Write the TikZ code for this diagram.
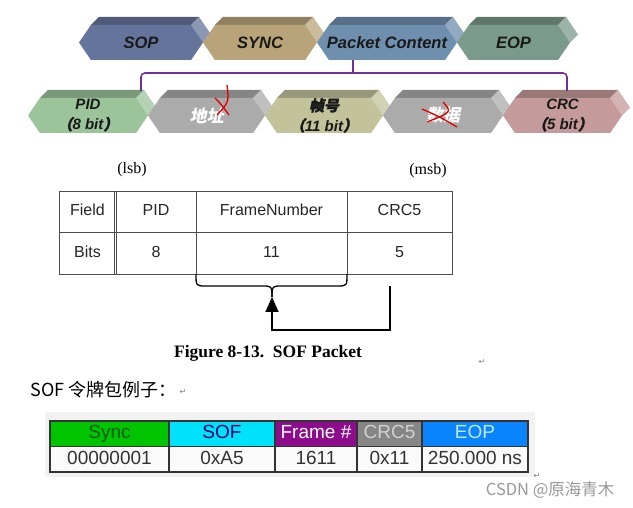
\documentclass[tikz,border=0pt]{standalone}
\usepackage{fontspec}
\setmainfont{Liberation Serif}
\setsansfont{Liberation Sans}
\newfontfamily\cjk{Noto Sans CJK SC}
\newfontfamily\cjkit[FakeSlant=0.2]{Noto Sans CJK SC}
\newfontfamily\cjkbf[FakeSlant=0.2,FakeBold=1.5]{Noto Sans CJK SC}
\newfontfamily\symfont{DejaVu Sans}
\usepackage{xcolor}
\usepackage{tikz}
\usetikzlibrary{positioning, arrows.meta}

\definecolor{sopc}{HTML}{65749A}
\definecolor{syncc}{HTML}{B9A47A}
\definecolor{pcc}{HTML}{6F8FAE}
\definecolor{eopc}{HTML}{7A9A8B}
\definecolor{pidc}{HTML}{9CC49B}
\definecolor{grayc}{HTML}{ABABAB}
\definecolor{fnumc}{HTML}{C2C29B}
\definecolor{crcc}{HTML}{C49A9A}
\definecolor{bracketc}{HTML}{7030A0}
\definecolor{syncg}{HTML}{00C400}
\definecolor{sofc}{HTML}{00E2FA}
\definecolor{framep}{HTML}{8C0C8C}
\definecolor{crcg}{HTML}{868686}
\definecolor{eopb}{HTML}{0A84FA}

% block: name, left, right, top, bottom, colour, text, text style
\newcommand{\hexblk}[8]{%
  \pgfmathsetmacro{\hw}{0.34*(#5-#4)}%
  \pgfmathsetmacro{\hm}{0.5*(#4+#5)}%
  \fill[#6!78!black] ({#2+\hw},#4) -- ({#2+\hw+8},{#4-8}) -- ({#3-\hw+8},{#4-8}) -- ({#3-\hw},#4) -- cycle;
  \fill[#6!75!white] ({#3-\hw},#4) -- ({#3-\hw+8},{#4-8}) -- ({#3+8},{\hm-8}) -- (#3,\hm) -- cycle;
  \fill[#6] (#2,\hm) -- ({#2+\hw},#4) -- ({#3-\hw},#4) -- (#3,\hm) -- ({#3-\hw},#5) -- ({#2+\hw},#5) -- cycle;
  \node[#8, inner sep=0, minimum width={#3-#2}, minimum height={#5-#4}] (#1) at ({0.5*(#2+#3)},\hm) {#7};
}

\tikzset{
  blktop/.style={font=\sffamily\bfseries\itshape\fontsize{16.5}{18}\selectfont, text=black!90},
  blkbot/.style={font=\sffamily\bfseries\itshape\fontsize{15}{20}\selectfont, align=center, text=black!90},
  bracket/.style={bracketc, line width=1.6, rounded corners=4},
  redmark/.style={red!90!black, line width=1.3},
  cell/.style={draw=black!70, line width=0.7, minimum height=41.5, inner sep=0, outer sep=0,
    font=\sffamily\fontsize{16}{18}\selectfont, text=black!85, text height=11.5, text depth=3},
  tcell/.style={draw=black!80, line width=1.2, minimum height=25.5, inner sep=0, outer sep=0,
    font=\sffamily\fontsize{19}{20}\selectfont, text height=13.5, text depth=3.5},
  conn/.style={black, line width=1.6},
  retmark/.style={font=\symfont\fontsize{8}{8}\selectfont, text=black!50}
}

\begin{document}
\begin{tikzpicture}[x=1pt, y=-1pt]
    \fill[white] (0,0) rectangle (633,508);
    \useasboundingbox (0,0) rectangle (633,508);

    % packet
    \hexblk{bsop}{79}{203}{25}{60}{sopc}{SOP}{blktop}
    \hexblk{bsync}{203}{317}{25}{60}{syncc}{SYNC}{blktop}
    \hexblk{bpc}{317}{457}{25}{60}{pcc}{Packet Content}{blktop}
    \hexblk{beop}{457}{570}{25}{60}{eopc}{EOP}{blktop}

    % token fields
    \hexblk{bpid}{28}{148}{98}{133}{pidc}{PID\\{\cjkbf （}8 bit{\cjkbf ）}}{blkbot}
    \hexblk{baddr}{148}{265}{98}{133}{grayc}{\cjkit\fontsize{17}{20}\selectfont 地址}{blkbot, text=white}
    \hexblk{bfnum}{265}{383}{98}{133}{fnumc}{{\cjkbf 帧号}\\{\cjkbf （}11 bit{\cjkbf ）}}{blkbot}
    \hexblk{bdata}{383}{503}{98}{133}{grayc}{\cjkit\fontsize{17}{20}\selectfont 数据}{blkbot, text=white}
    \hexblk{bcrc}{503}{622}{98}{133}{crcc}{CRC\\{\cjkbf （}5 bit{\cjkbf ）}}{blkbot}

    % crossed out
    \draw[redmark] (227,85) .. controls (229,102) .. (217,115);
    \draw[redmark] (215,98) .. controls (221,104) .. (229,115);
    \draw[redmark] (422,109) .. controls (440,117) .. (457,127);
    \draw[redmark] (443,102) .. controls (452,112) .. (427,122);

    % bracket
    \coordinate (jct) at (353,69);
    \draw[bracket] (bpc.south -| jct) -- (jct) .. controls (353,73) .. (349,73) -| ([xshift=53,yshift=7]bpid.north);
    \draw[bracket] (jct) .. controls (353,73) .. (357,73) -| ([xshift=4.5,yshift=7]bcrc.north);

    % SOF table
    \node (lsb) at (132,170) {\fontsize{16}{18}\selectfont (lsb)};
    \node (msb) at (428,171) {\fontsize{16}{18}\selectfont (msb)};
    \node[cell, minimum width=57, anchor=north west] (field) at (59,191) {Field};
    \node[cell, minimum width=80, right=0pt of field] (pidh) {PID};
    \node[cell, minimum width=151, right=0pt of pidh] (frameh) {FrameNumber};
    \node[cell, minimum width=105, right=0pt of frameh] (crch) {CRC5};
    \node[cell, minimum width=57, below=0pt of field] (bits) {Bits};
    \node[cell, minimum width=80, below=0pt of pidh] (pidb) {8};
    \node[cell, minimum width=151, below=0pt of frameh] (frameb) {11};
    \node[cell, minimum width=105, below=0pt of crch] (crcb) {5};
    \draw[black!70, line width=0.7] ([xshift=-2]field.north east) -- ([xshift=-2]bits.south east);

    % brace and arrow
    \coordinate (brtip) at (272,297);
    \coordinate (bend) at (272,330);
    \coordinate (crcfoot) at (390,286);
    \draw[conn, line width=1.3] (frameb.south west) .. controls (196,286) .. (206,286) -- (262,286) .. controls (272,286) .. (brtip);
    \draw[conn, line width=1.3] (frameb.south east) .. controls (347,286) .. (337,286) -- (282,286) .. controls (272,286) .. (brtip);
    \draw[conn, -{Triangle[length=15pt,width=13pt]}] (crcfoot) |- (bend) -- (brtip);

    \node[font=\bfseries\fontsize{17.5}{20}\selectfont] (cap) at (268,353) {Figure 8-13.\ \ SOF Packet};
    \node[retmark] (ret1) at (482,362) {↵};

    % example
    \node[anchor=west, font=\cjk\fontsize{18}{20}\selectfont] (title) at (27,390) {SOF 令牌包例子：};
    \node[retmark] (ret2) at (183,392) {↵};
    \fill[black!5] (45,412) rectangle (535,477);
    \node[tcell, fill=syncg, text=green!35!black, minimum width=119, anchor=north west] (sync) at (50,421) {Sync};
    \node[tcell, fill=sofc, text=blue!45!black, minimum width=106, right=0pt of sync] (sof) {SOF};
    \node[tcell, fill=framep, text=white, minimum width=82, right=0pt of sof] (frnum) {Frame \#};
    \node[tcell, fill=crcg, text=black!18, minimum width=65, right=0pt of frnum] (crc5) {CRC5};
    \node[tcell, fill=eopb, text=cyan!25, minimum width=106, right=0pt of crc5] (eop) {EOP};
    \node[tcell, fill=black!2, text=black!80, minimum width=119, below=0pt of sync] (syncv) {00000001};
    \node[tcell, fill=black!2, text=black!80, minimum width=106, below=0pt of sof] (sofv) {0xA5};
    \node[tcell, fill=black!2, text=black!80, minimum width=82, below=0pt of frnum] (frnumv) {1611};
    \node[tcell, fill=black!2, text=black!80, minimum width=65, below=0pt of crc5] (crc5v) {0x11};
    \node[tcell, fill=black!2, text=black!80, minimum width=106, below=0pt of eop] (eopv) {250.000 ns};
    \node[retmark] (ret3) at (537,476) {↵};
    \node[anchor=east, text=black!40, font=\cjk\fontsize{16.5}{18}\selectfont] (mark) at (618,490) {CSDN @原海青木};
\end{tikzpicture}
\end{document}
